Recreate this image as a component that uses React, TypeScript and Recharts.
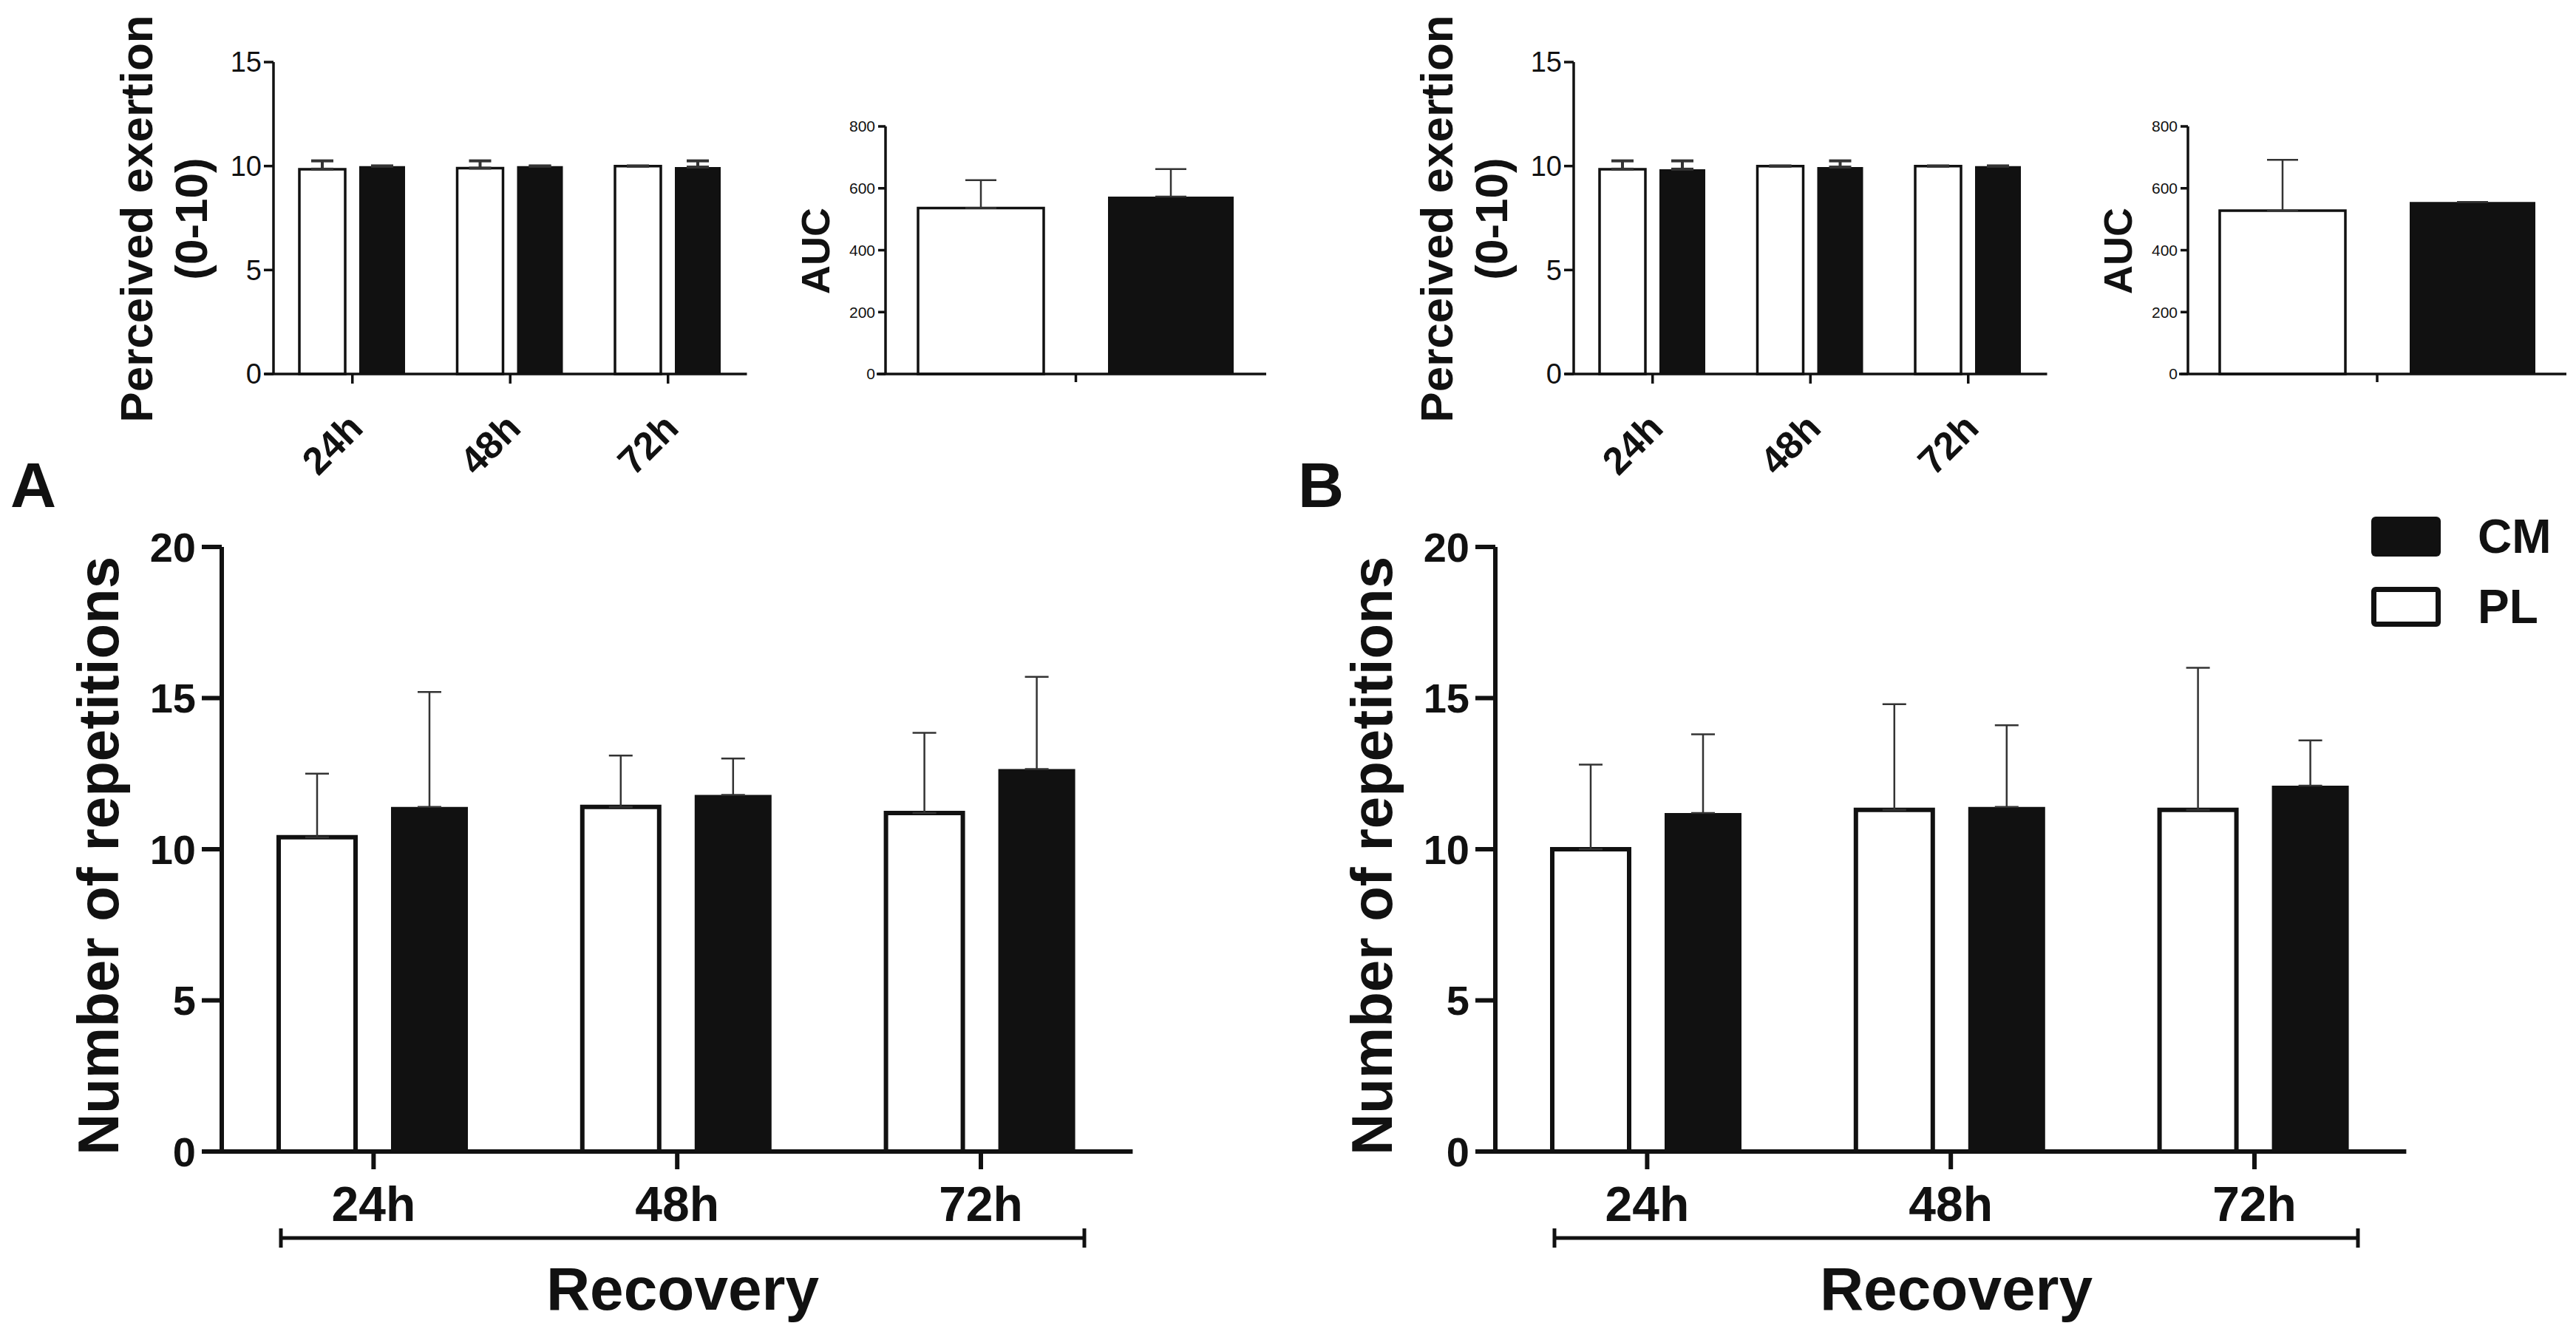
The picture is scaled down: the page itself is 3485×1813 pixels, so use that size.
import React from 'react';
import { BarChart, Bar, XAxis, YAxis, ErrorBar, Legend } from 'recharts';

// ---------- data ----------
const timepoints = ['24h', '48h', '72h'];
const aucCategory = [''];
const legendOrder = ['CM', 'PL'];

// Perceived exertion (0-10), panel A
const peA_pl = [9.85, 9.9, 10.0];
const peA_plSd = [0.4, 0.35, 0];
const peA_cm = [10.0, 10.0, 9.95];
const peA_cmSd = [0, 0, 0.3];
// Perceived exertion (0-10), panel B
const peB_pl = [9.85, 10.0, 10.0];
const peB_plSd = [0.4, 0, 0];
const peB_cm = [9.85, 9.95, 10.0];
const peB_cmSd = [0.4, 0.3, 0];

// AUC
const aucA_pl = [536];
const aucA_plSd = [90];
const aucA_cm = [573];
const aucA_cmSd = [89];
const aucB_pl = [528];
const aucB_plSd = [164];
const aucB_cm = [556];
const aucB_cmSd = [0];

// Number of repetitions
const repA_pl = [10.4, 11.4, 11.2];
const repA_plSd = [2.1, 1.7, 2.65];
const repA_cm = [11.4, 11.8, 12.65];
const repA_cmSd = [3.8, 1.2, 3.05];
const repB_pl = [10.0, 11.3, 11.3];
const repB_plSd = [2.8, 3.5, 4.7];
const repB_cm = [11.2, 11.4, 12.1];
const repB_cmSd = [2.6, 2.7, 1.5];

const peTicks = [0, 5, 10, 15];
const aucTicks = [0, 200, 400, 600, 800];
const repTicks = [0, 5, 10, 15, 20];

const FONT = '"Liberation Sans", Arial, Helvetica, sans-serif';

function buildRows(cats: string[], pl: number[], plSd: number[], cm: number[], cmSd: number[]) {
  return cats.map((c, i) => ({
    cat: c,
    PL: pl[i],
    CM: cm[i],
    plErr: [0, plSd[i]],
    cmErr: [0, cmSd[i]],
  }));
}

const peRowsA = buildRows(timepoints, peA_pl, peA_plSd, peA_cm, peA_cmSd);
const peRowsB = buildRows(timepoints, peB_pl, peB_plSd, peB_cm, peB_cmSd);
const aucRowsA = buildRows(aucCategory, aucA_pl, aucA_plSd, aucA_cm, aucA_cmSd);
const aucRowsB = buildRows(aucCategory, aucB_pl, aucB_plSd, aucB_cm, aucB_cmSd);
const repRowsA = buildRows(timepoints, repA_pl, repA_plSd, repA_cm, repA_cmSd);
const repRowsB = buildRows(timepoints, repB_pl, repB_plSd, repB_cm, repB_cmSd);

// ---------- generic panel ----------
type PanelProps = {
  rows: any[];
  axisX: number;
  ext: number;
  band: number;
  plotTop: number;
  plotBottom: number;
  yAxisW: number;
  marginTop: number;
  marginRight: number;
  xAxisH: number;
  domain: [number, number];
  ticks: number[];
  barSize: number;
  barGap: number;
  outline: number;
  axisStroke: number;
  yTickSize: number;
  yTickMargin: number;
  xTickSize: number;
  yTickFont: number;
  yTickBold: boolean;
  errWidth: number;
  errStroke: number;
  renderXTick: (p: any) => any;
  renderYLabel: (vb: any) => any;
  renderXLabel?: (vb: any) => any;
  legend?: { left: number; top: number };
};

function renderLegendContent(props: any) {
  const items = [...(props.payload || [])].sort(
    (a: any, b: any) => legendOrder.indexOf(a.value) - legendOrder.indexOf(b.value)
  );
  return (
    <div style={{ fontFamily: FONT, fontWeight: 'bold', fontSize: 64, color: '#111' }}>
      {items.map((it: any) => {
        const filled = it.value === 'CM';
        return (
          <div key={it.value} style={{ display: 'flex', alignItems: 'center', height: 95 }}>
            <div
              style={{
                width: 94,
                height: 54,
                boxSizing: 'border-box',
                background: filled ? '#111' : '#fff',
                border: filled ? 'none' : '7px solid #111',
                borderRadius: 6,
              }}
            />
            <span style={{ marginLeft: 50, lineHeight: 1 }}>{it.value}</span>
          </div>
        );
      })}
    </div>
  );
}

function Panel(p: PanelProps) {
  const n = p.rows.length;
  const plotH = p.plotBottom - p.plotTop;
  const width = p.yAxisW + p.ext + p.band * n + p.marginRight;
  const height = p.marginTop + plotH + p.xAxisH;
  const left = p.axisX - p.ext - p.yAxisW;
  const top = p.plotTop - p.marginTop;
  const shift = `translate(${p.ext},0)`;
  return (
    <div style={{ position: 'absolute', left, top, width, height }}>
      <BarChart
        width={width}
        height={height}
        data={p.rows}
        margin={{ top: p.marginTop, right: p.marginRight, bottom: 0, left: 0 }}
        barGap={p.barGap}
        barSize={p.barSize}
      >
        <XAxis
          dataKey="cat"
          interval={0}
          height={p.xAxisH}
          padding={{ left: p.ext, right: 0 }}
          axisLine={{ stroke: '#111', strokeWidth: p.axisStroke }}
          tickLine={{ stroke: '#111', strokeWidth: p.axisStroke }}
          tickSize={p.xTickSize}
          tickMargin={0}
          tick={p.renderXTick}
          label={p.renderXLabel ? { content: (lp: any) => p.renderXLabel!(lp.viewBox) } : undefined}
        />
        <YAxis
          type="number"
          domain={p.domain}
          ticks={p.ticks}
          interval={0}
          width={p.yAxisW}
          axisLine={{ stroke: '#111', strokeWidth: p.axisStroke, transform: shift }}
          tickLine={{ stroke: '#111', strokeWidth: p.axisStroke, transform: shift }}
          tickSize={p.yTickSize}
          tickMargin={p.yTickMargin}
          tick={(tp: any) => (
            <text
              x={tp.x + p.ext}
              y={tp.y}
              dy="0.355em"
              textAnchor="end"
              fontFamily={FONT}
              fontSize={p.yTickFont}
              fontWeight={p.yTickBold ? 'bold' : 'normal'}
              fill="#111"
            >
              {tp.payload.value}
            </text>
          )}
          label={{ content: (lp: any) => p.renderYLabel(lp.viewBox) }}
        />
        {p.legend ? (
          <Legend
            layout="vertical"
            align="center"
            verticalAlign="middle"
            wrapperStyle={{ left: p.legend.left, top: p.legend.top, width: 320, height: 200 }}
            content={renderLegendContent}
          />
        ) : null}
        <Bar
          dataKey="PL"
          name="PL"
          fill="#ffffff"
          stroke="#111"
          strokeWidth={p.outline}
          isAnimationActive={false}
        >
          <ErrorBar
            dataKey="plErr"
            width={p.errWidth}
            stroke="#333"
            strokeWidth={p.errStroke}
            direction="y"
            isAnimationActive={false}
          />
        </Bar>
        <Bar dataKey="CM" name="CM" fill="#111111" isAnimationActive={false}>
          <ErrorBar
            dataKey="cmErr"
            width={p.errWidth}
            stroke="#333"
            strokeWidth={p.errStroke}
            direction="y"
            isAnimationActive={false}
          />
        </Bar>
      </BarChart>
    </div>
  );
}

// ---------- label renderers ----------
const peXTick = (tp: any) => {
  const ax = tp.x + 17;
  const ay = tp.y - 13 + 76;
  return (
    <text
      x={ax}
      y={ay}
      textAnchor="end"
      transform={`rotate(-45 ${ax} ${ay})`}
      fontFamily={FONT}
      fontSize={52}
      fontWeight="bold"
      fill="#111"
    >
      {tp.payload.value}
    </text>
  );
};

const emptyTick = () => <g />;

const repXTick = (tp: any) => (
  <text
    x={tp.x}
    y={tp.y - 24 + 94}
    textAnchor="middle"
    fontFamily={FONT}
    fontSize={66}
    fontWeight="bold"
    fill="#111"
  >
    {tp.payload.value}
  </text>
);

function peYLabel(ext: number) {
  return (vb: any) => {
    const axis = vb.x + vb.width + ext;
    const cy = vb.y + vb.height / 2 + 1;
    const x1 = axis - 164;
    const x2 = axis - 90;
    return (
      <g>
        <text
          x={x1}
          y={cy}
          textAnchor="middle"
          transform={`rotate(-90 ${x1} ${cy})`}
          fontFamily={FONT}
          fontSize={62}
          fontWeight="bold"
          fill="#111"
        >
          Perceived exertion
        </text>
        <text
          x={x2}
          y={cy}
          textAnchor="middle"
          transform={`rotate(-90 ${x2} ${cy})`}
          fontFamily={FONT}
          fontSize={62}
          fontWeight="bold"
          fill="#111"
        >
          (0-10)
        </text>
      </g>
    );
  };
}

function aucYLabel(ext: number) {
  return (vb: any) => {
    const axis = vb.x + vb.width + ext;
    const cy = vb.y + vb.height / 2 + 1;
    const x1 = axis - 76;
    return (
      <text
        x={x1}
        y={cy}
        textAnchor="middle"
        transform={`rotate(-90 ${x1} ${cy})`}
        fontFamily={FONT}
        fontSize={54}
        fontWeight="bold"
        fill="#111"
      >
        AUC
      </text>
    );
  };
}

function repYLabel(ext: number) {
  return (vb: any) => {
    const axis = vb.x + vb.width + ext;
    const cy = vb.y + vb.height / 2 + 9;
    const x1 = axis - 140;
    return (
      <text
        x={x1}
        y={cy}
        textAnchor="middle"
        transform={`rotate(-90 ${x1} ${cy})`}
        fontFamily={FONT}
        fontSize={78}
        fontWeight="bold"
        fill="#111"
      >
        Number of repetitions
      </text>
    );
  };
}

function recoveryLabel(ext: number) {
  return (vb: any) => {
    const axis = vb.x + ext;
    const ly = vb.y + 117;
    const x1 = axis + 80;
    const x2 = axis + 1167;
    const cx = (x1 + x2) / 2;
    return (
      <g>
        <line x1={x1} y1={ly} x2={x2} y2={ly} stroke="#111" strokeWidth={5} />
        <line x1={x1} y1={ly - 13} x2={x1} y2={ly + 13} stroke="#111" strokeWidth={5} />
        <line x1={x2} y1={ly - 13} x2={x2} y2={ly + 13} stroke="#111" strokeWidth={5} />
        <text
          x={cx}
          y={vb.y + 214}
          textAnchor="middle"
          fontFamily={FONT}
          fontSize={82}
          fontWeight="bold"
          fill="#111"
        >
          Recovery
        </text>
      </g>
    );
  };
}

// ---------- shared configs ----------
const peCfg = {
  ext: 12,
  band: 213.5,
  plotTop: 84,
  plotBottom: 506,
  yAxisW: 230,
  marginTop: 84,
  marginRight: 10,
  xAxisH: 150,
  domain: [0, 15] as [number, number],
  ticks: peTicks,
  barSize: 62,
  barGap: 19,
  outline: 3.5,
  axisStroke: 3.5,
  yTickSize: 13,
  yTickMargin: 3,
  xTickSize: 13,
  yTickFont: 38,
  yTickBold: false,
  errWidth: 15,
  errStroke: 4,
  renderXTick: peXTick,
  renderYLabel: peYLabel(12),
};

const aucCfg = {
  ext: 12,
  plotTop: 171,
  plotBottom: 506,
  yAxisW: 140,
  marginTop: 20,
  marginRight: 10,
  xAxisH: 30,
  domain: [0, 800] as [number, number],
  ticks: aucTicks,
  barSize: 170,
  barGap: 87,
  outline: 3.5,
  axisStroke: 3.5,
  yTickSize: 10,
  yTickMargin: 4,
  xTickSize: 11,
  yTickFont: 21,
  yTickBold: false,
  errWidth: 21,
  errStroke: 2.5,
  renderXTick: emptyTick,
  renderYLabel: aucYLabel(12),
};

const repCfg = {
  ext: 25,
  band: 410.8,
  plotTop: 740,
  plotBottom: 1558,
  yAxisW: 240,
  marginTop: 70,
  xAxisH: 250,
  domain: [0, 20] as [number, number],
  ticks: repTicks,
  barSize: 104,
  barGap: 48,
  outline: 6,
  axisStroke: 6,
  yTickSize: 27,
  yTickMargin: 8,
  xTickSize: 24,
  yTickFont: 56,
  yTickBold: true,
  errWidth: 16,
  errStroke: 2.5,
  renderXTick: repXTick,
  renderYLabel: repYLabel(25),
  renderXLabel: recoveryLabel(25),
};

export default function App() {
  return (
    <div
      style={{
        position: 'absolute',
        left: 0,
        top: 0,
        width: 3485,
        height: 1813,
        background: '#fff',
        overflow: 'hidden',
      }}
    >
      <Panel {...peCfg} rows={peRowsA} axisX={370} />
      <Panel {...aucCfg} rows={aucRowsA} axisX={1198} band={515} />
      <Panel {...peCfg} rows={peRowsB} axisX={2129} />
      <Panel {...aucCfg} rows={aucRowsB} axisX={2960} band={512} />
      <Panel {...repCfg} rows={repRowsA} axisX={300} marginRight={20} />
      <Panel
        {...repCfg}
        rows={repRowsB}
        axisX={2023}
        marginRight={220}
        legend={{ left: 1450, top: 8 }}
      />
      <svg
        width={3485}
        height={1813}
        style={{ position: 'absolute', left: 0, top: 0, pointerEvents: 'none' }}
      >
        <text x={14} y={686} fontFamily={FONT} fontSize={86} fontWeight="bold" fill="#111">
          A
        </text>
        <text x={1756} y={686} fontFamily={FONT} fontSize={86} fontWeight="bold" fill="#111">
          B
        </text>
      </svg>
    </div>
  );
}
